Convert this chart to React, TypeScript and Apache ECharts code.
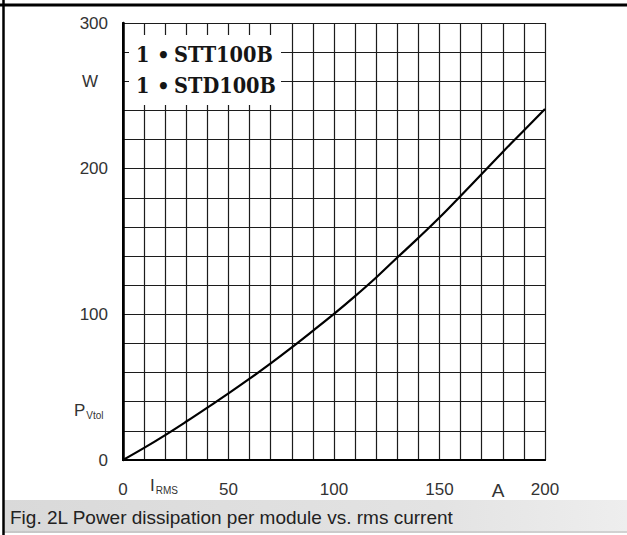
import React, { useEffect, useRef } from "react";
import * as echarts from "echarts";

const currents = [0, 10, 20, 30, 40, 50, 60, 70, 80, 90, 100, 110, 120, 130, 140, 150, 160, 170, 180, 190, 200];
const power = [0, 8.3, 17.1, 26.4, 36, 45.7, 55.8, 66.3, 77.3, 88.7, 100.3, 112.5, 125.3, 139, 152.5, 166.5, 181.3, 196.3, 211.5, 226.2, 241];
const xTickLabels = [0, 50, 100, 150, 200];
const yTickLabels = [0, 100, 200, 300];
const legendRows = ["STT100B", "STD100B"];
const caption = "Fig. 2L Power dissipation per module vs. rms current";

export default function App() {
  const ref = useRef<HTMLDivElement>(null);
  useEffect(() => {
    if (!ref.current) return;
    const chart = echarts.init(ref.current, null, { renderer: "svg" });
    const sans = "'Liberation Sans', Arial, sans-serif";
    const legendFont = "'DejaVu Serif', serif";
    const gridColor = "#1c1c1c";
    const option: any = {
      animation: false,
      backgroundColor: "#fff",
      grid: { left: 123, top: 23, right: 82, bottom: 75, containLabel: false },
      xAxis: [
        {
          type: "value",
          min: 0,
          max: 200,
          interval: 10,
          axisLine: { show: true, lineStyle: { color: "#000", width: 2 } },
          axisTick: { show: false },
          splitLine: { show: true, lineStyle: { color: gridColor, width: 1.2 } },
          axisLabel: {
            show: true,
            margin: 21,
            fontSize: 17,
            fontFamily: sans,
            color: "#333",
            formatter: (v: number) => (xTickLabels.includes(v) ? String(v) : ""),
          },
        },
        {
          type: "value",
          position: "top",
          min: 0,
          max: 200,
          interval: 10,
          axisLine: { show: true, lineStyle: { color: "#000", width: 2 } },
          axisTick: { show: false },
          axisLabel: { show: false },
          splitLine: { show: false },
        },
      ],
      yAxis: [
        {
          type: "value",
          min: 0,
          max: 300,
          interval: 20,
          axisLine: { show: true, lineStyle: { color: "#000", width: 2 } },
          axisTick: { show: false },
          splitLine: { show: true, lineStyle: { color: gridColor, width: 1.2 } },
          axisLabel: {
            show: true,
            margin: 15,
            fontSize: 17,
            fontFamily: sans,
            color: "#333",
            formatter: (v: number) => (yTickLabels.includes(v) ? String(v) : ""),
          },
        },
        {
          type: "value",
          position: "right",
          min: 0,
          max: 300,
          interval: 20,
          axisLine: { show: true, lineStyle: { color: "#000", width: 2.5 } },
          axisTick: { show: false },
          axisLabel: { show: false },
          splitLine: { show: false },
        },
      ],
      series: [
        {
          type: "line",
          xAxisIndex: 0,
          yAxisIndex: 0,
          data: currents.map((c, i) => [c, power[i]]),
          smooth: 0.4,
          showSymbol: false,
          lineStyle: { color: "#000", width: 2.2 },
          z: 5,
        },
      ],
      graphic: [
        { type: "rect", z: 100, shape: { x: 129, y: 35, width: 152, height: 70 }, style: { fill: "#fff" } },
        ...legendRows.flatMap((name, i) => {
          const y = 55 + i * 31;
          return [
            { type: "text", z: 101, x: 136, y, scaleX: 0.88, style: { text: "1", font: `bold 22px ${legendFont}`, fill: "#151515", verticalAlign: "middle" } },
            { type: "text", z: 101, x: 157, y, style: { text: "•", font: `bold 20px ${legendFont}`, fill: "#151515", verticalAlign: "middle" } },
            { type: "text", z: 101, x: 174, y, scaleX: 0.88, style: { text: name, font: `bold 22px ${legendFont}`, fill: "#151515", verticalAlign: "middle" } },
          ];
        }),
        { type: "text", z: 101, x: 90, y: 81, style: { text: "W", font: `17px ${sans}`, fill: "#333", align: "center", verticalAlign: "middle" } },
        { type: "text", z: 101, x: 498, y: 490, style: { text: "A", font: `19px ${sans}`, fill: "#333", align: "center", verticalAlign: "middle" } },
        {
          type: "text",
          z: 101,
          x: 74,
          y: 410,
          style: {
            text: "{a|P}{b|Vtol}",
            verticalAlign: "middle",
            rich: {
              a: { fontSize: 17, fontFamily: sans, fill: "#333", verticalAlign: "bottom" },
              b: { fontSize: 10, fontFamily: sans, fill: "#333", verticalAlign: "bottom", padding: [0, 0, -2, 1] },
            },
          },
        },
        {
          type: "text",
          z: 101,
          x: 150,
          y: 485,
          style: {
            text: "{a|I}{b|RMS}",
            verticalAlign: "middle",
            rich: {
              a: { fontSize: 17, fontFamily: sans, fill: "#333", verticalAlign: "bottom" },
              b: { fontSize: 10, fontFamily: sans, fill: "#333", verticalAlign: "bottom", padding: [0, 0, -2, 1] },
            },
          },
        },
        {
          type: "rect",
          z: 90,
          shape: { x: 4, y: 500, width: 623, height: 33 },
          style: {
            fill: new echarts.graphic.LinearGradient(0, 0, 1, 0, [
              { offset: 0, color: "#d9d9d9" },
              { offset: 0.7, color: "#e3e3e3" },
              { offset: 1, color: "#eeeeee" },
            ]),
          },
        },
        { type: "line", z: 95, shape: { x1: 4, y1: 532, x2: 627, y2: 532 }, style: { stroke: "#b5b5b5", lineWidth: 1 } },
        { type: "text", z: 101, x: 10, y: 517, style: { text: caption, font: `19px ${sans}`, fill: "#222", verticalAlign: "middle" } },
        { type: "line", z: 110, shape: { x1: 0, y1: 5, x2: 627, y2: 5 }, style: { stroke: "#000", lineWidth: 3 } },
        { type: "line", z: 110, shape: { x1: 3.5, y1: 0, x2: 3.5, y2: 535 }, style: { stroke: "#000", lineWidth: 2.5 } },
      ],
    };
    chart.setOption(option);
    return () => chart.dispose();
  }, []);
  return <div ref={ref} style={{ position: "absolute", left: 0, top: 0, width: 627, height: 535 }} />;
}
